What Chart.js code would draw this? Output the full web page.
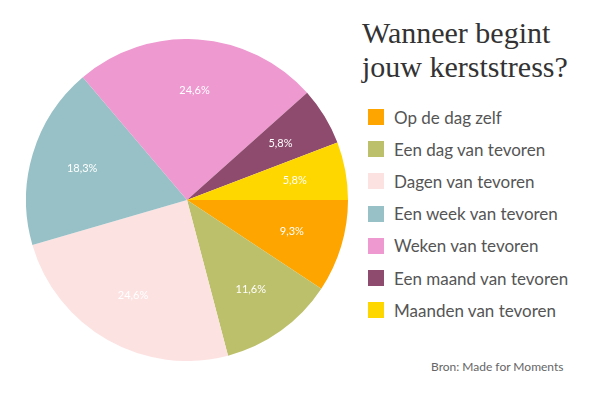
<!DOCTYPE html>
<html><head><meta charset="utf-8">
<script src="https://cdn.jsdelivr.net/npm/chart.js@4"></script>
<style>
body{margin:0;width:600px;height:400px;background:#fff;position:relative;overflow:hidden;font-family:Lato,"Open Sans",sans-serif}
#wrap{position:absolute;left:26px;top:39px;width:322px;height:322px}
#title{position:absolute;left:362px;top:16px;font-family:"Liberation Serif","DejaVu Serif",serif;font-size:30px;line-height:34px;color:#333}
#legend{position:absolute;left:368px;top:101px}
.row{display:flex;align-items:center;height:32.2px;font-size:17px;color:#555}
.sw{width:16px;height:16px;margin-right:10px}
#src{position:absolute;left:431px;top:359px;font-size:12px;color:#666}
</style></head><body>
<div id="wrap"><canvas id="c"></canvas></div>
<div id="title">Wanneer begint<br>jouw kerststress?</div>
<div id="legend"></div>
<div id="src">Bron: Made for Moments</div>
<script>
const categories=["Op de dag zelf","Een dag van tevoren","Dagen van tevoren","Een week van tevoren","Weken van tevoren","Een maand van tevoren","Maanden van tevoren"];
const values=[9.3,11.6,24.6,18.3,24.6,5.8,5.8];
const colors=["#FFA500","#BDC06B","#FDE2E2","#97C1C6","#EE99D0","#8E4B6E","#FFD700"];
const lg=document.getElementById('legend');
categories.forEach((c,i)=>{lg.innerHTML+=`<div class="row"><div class="sw" style="background:${colors[i]}"></div>${c}</div>`;});
const labelPlugin={id:'lbl',afterDatasetsDraw(chart){
 const ctx=chart.ctx;const meta=chart.getDatasetMeta(0);
 ctx.save();ctx.font='11px Lato, sans-serif';ctx.fillStyle='#fff';ctx.textAlign='center';ctx.textBaseline='middle';
 meta.data.forEach((a,i)=>{const ang=(a.startAngle+a.endAngle)/2;const r=a.outerRadius*0.68;
  ctx.fillText(values[i].toFixed(1).replace('.',',')+'%',a.x+Math.cos(ang)*r,a.y+Math.sin(ang)*r);});
 ctx.restore();}};
new Chart(document.getElementById('c'),{type:'pie',
 data:{labels:categories,datasets:[{data:values,backgroundColor:colors,borderWidth:0}]},
 options:{responsive:true,maintainAspectRatio:false,animation:false,rotation:90,layout:{padding:0},
  plugins:{legend:{display:false},tooltip:{enabled:false}}},
 plugins:[labelPlugin]});
</script></body></html>
